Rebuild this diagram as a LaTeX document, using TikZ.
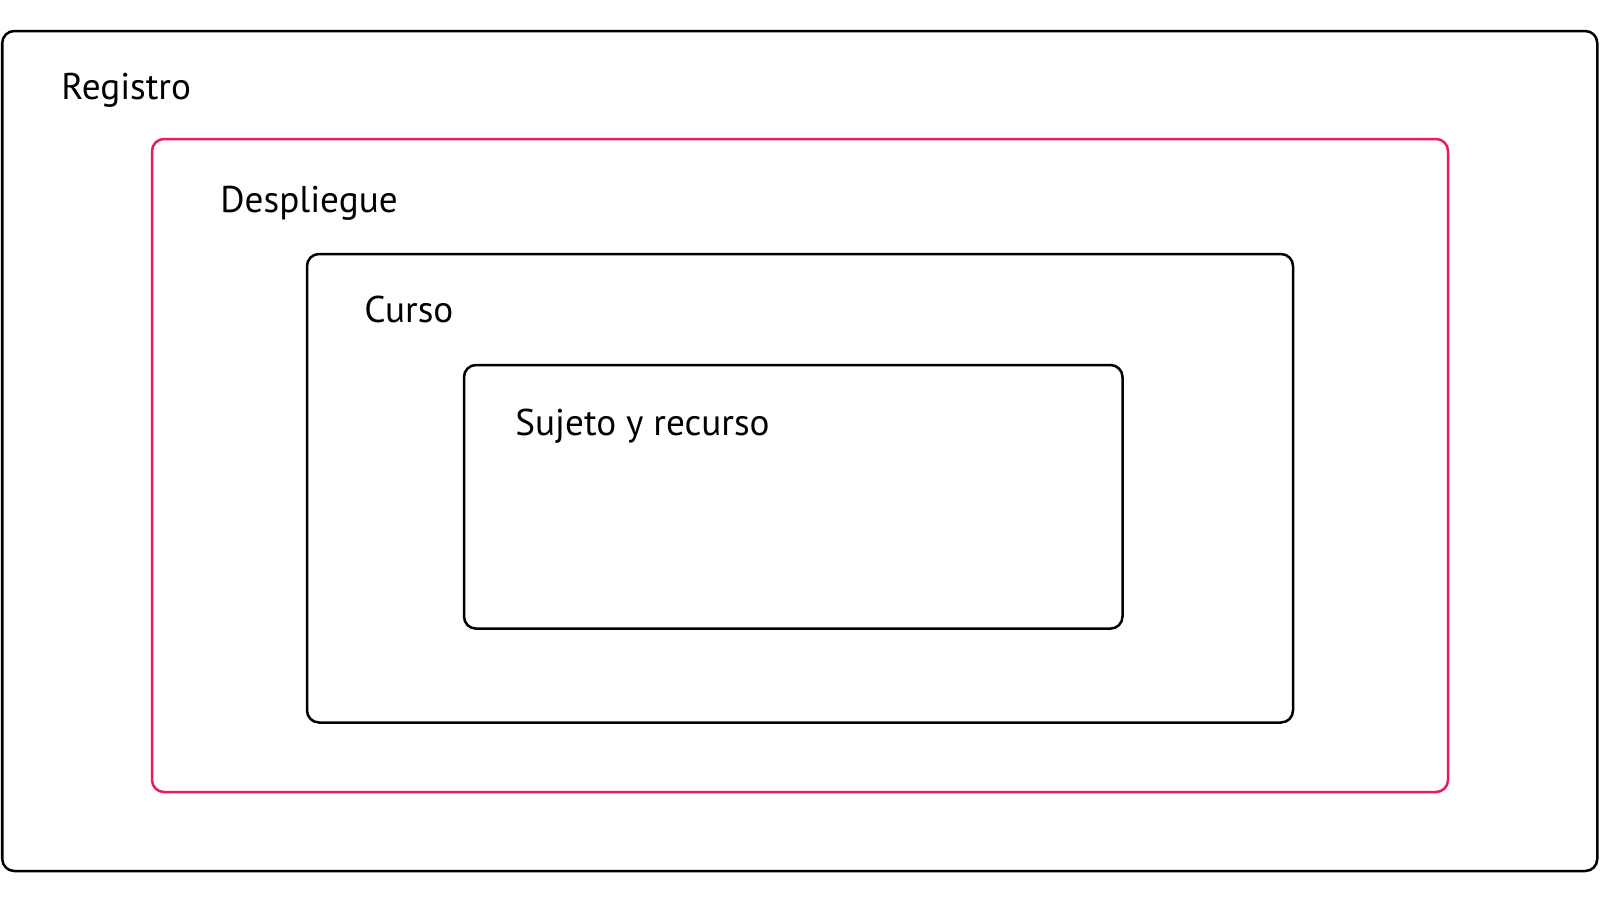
\documentclass[tikz,border=0pt]{standalone}
\usepackage{fontspec}
\setmainfont{PT Sans}
\usetikzlibrary{positioning}

\definecolor{rosa}{RGB}{232,28,92}

\tikzset{
    caja/.style={draw=black, line width=1.25pt, rounded corners=6pt, inner sep=0pt},
    cajarosa/.style={caja, draw=rosa},
    titulo/.style={anchor=base west, inner sep=0pt, font=\fontsize{18.6}{22}\selectfont},
}

\begin{document}
\begin{tikzpicture}[x=0.5pt, y=-0.5pt]
\useasboundingbox (0,0) rectangle (1600,900);
% nested boxes
\node [caja, minimum width=797.5pt, minimum height=420pt] (registro) at (799.75,451) {};
\node [cajarosa, minimum width=648pt, minimum height=326.5pt] (despliegue) at (800,465.5) {};
\node [caja, minimum width=493pt, minimum height=234.25pt] (curso) at (800,488.25) {};
\node [caja, minimum width=329.25pt, minimum height=131.8pt] (sujeto) at (793.25,496.8) {};
% labels
\node [titulo] (tregistro) at (61,99) {Registro};
\node [titulo] (tdespliegue) at (220,212) {Despliegue};
\node [titulo] (tcurso) at (364,322) {Curso};
\node [titulo] (tsujeto) at (515,435) {Sujeto y recurso};
\end{tikzpicture}
\end{document}
